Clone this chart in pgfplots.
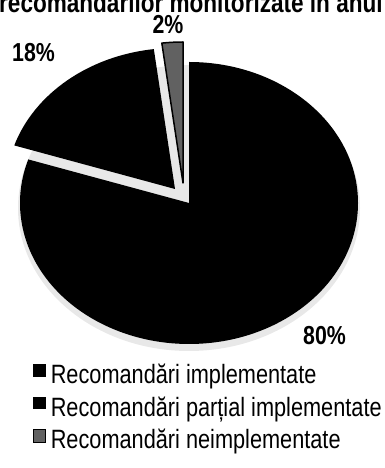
\documentclass[border=0pt]{standalone}
\usepackage{fontspec}
\setmainfont{Liberation Sans}[FakeStretch=0.82]
\usepackage{pgfplots}
\usepackage{pgfplotstable}
\pgfplotsset{compat=1.18}
% share (%), explode offset x, y (pt)
\pgfplotstableread{
value dx dy
80 0 0
18 -14 14
2 -6 20
}\piedata
\def\cx{189}\def\cy{265}\def\rx{169}\def\ry{141}
\begin{document}
\begin{tikzpicture}
\clip (0,0) rectangle (384pt,468pt);
\path[use as bounding box] (0,0) rectangle (384pt,468pt);
\pgfplotstablegetelem{0}{value}\of\piedata\let\vA\pgfplotsretval
\pgfplotstablegetelem{1}{value}\of\piedata\let\vB\pgfplotsretval
\pgfplotstablegetelem{2}{value}\of\piedata\let\vC\pgfplotsretval
\pgfplotstablegetelem{1}{dx}\of\piedata\let\dxB\pgfplotsretval
\pgfplotstablegetelem{1}{dy}\of\piedata\let\dyB\pgfplotsretval
\pgfplotstablegetelem{2}{dx}\of\piedata\let\dxC\pgfplotsretval
\pgfplotstablegetelem{2}{dy}\of\piedata\let\dyC\pgfplotsretval
\pgfmathsetmacro\aS{90}
\pgfmathsetmacro\aA{90-3.6*\vA}
\pgfmathsetmacro\aB{\aA-3.6*\vB}
\pgfmathsetmacro\aC{\aB-3.6*\vC}
\begin{axis}[x=1pt,y=1pt,xmin=0,xmax=384,ymin=0,ymax=468,
  hide axis,anchor=south west,at={(0,0)},clip=false,
  legend cell align=left,
  legend image code/.code={\path[#1] (0pt,0pt) rectangle (12.5pt,12.5pt);},
  legend style={at={(0.0859,0.2222)},anchor=north west,draw=none,fill=none,
    inner sep=0pt,outer sep=0pt,row sep=8pt,
    font=\fontsize{26.5}{30}\selectfont,
    nodes={inner sep=0pt,text height=19pt,text depth=5pt},
    /tikz/every odd column/.style={column sep=4.5pt}},
]
% faint depth shadow of the scanned 3-D pie
\fill[black!9] (axis cs:\cx,\cy-5) ellipse[x radius=\rx pt+2pt,y radius=\ry pt+2pt];
% 80 %
\fill[black] (axis cs:\cx,\cy) -- ++(\aS:\rx pt and \ry pt)
  arc[start angle=\aS,end angle=\aA,x radius=\rx pt,y radius=\ry pt] -- cycle;
% 18 %
\fill[black] (axis cs:\cx+\dxB,\cy+\dyB) -- ++(\aA:\rx pt and \ry pt)
  arc[start angle=\aA,end angle=\aB,x radius=\rx pt,y radius=\ry pt] -- cycle;
% 2 %
\filldraw[fill=black!62,draw=black,line width=1.5pt,line join=round] (axis cs:\cx+\dxC,\cy+\dyC) -- ++(\aB:\rx pt and \ry pt)
  arc[start angle=\aB,end angle=\aC,x radius=\rx pt,y radius=\ry pt] -- cycle;

\addlegendimage{fill=black,draw=none}
\addlegendentry{Recomandări implementate}
\addlegendimage{fill=black,draw=none}
\addlegendentry{Recomandări parțial implementate}
\addlegendimage{fill=black!62,draw=black,line width=0.8pt}
\addlegendentry{Recomandări neimplementate}

\node[anchor=base west,inner sep=0pt,font=\fontsize{27.5}{30}\selectfont\bfseries] at (axis cs:-1,455) {recomandărilor monitorizate în anul};
\node[anchor=base,inner sep=0pt,font=\fontsize{26}{30}\selectfont\bfseries] at (axis cs:168,434.5) {2\%};
\node[anchor=base west,inner sep=0pt,font=\fontsize{26}{30}\selectfont\bfseries] at (axis cs:12,406) {18\%};
\node[anchor=base west,inner sep=0pt,font=\fontsize{26}{30}\selectfont\bfseries] at (axis cs:303,123) {80\%};
\end{axis}
\end{tikzpicture}
\end{document}
